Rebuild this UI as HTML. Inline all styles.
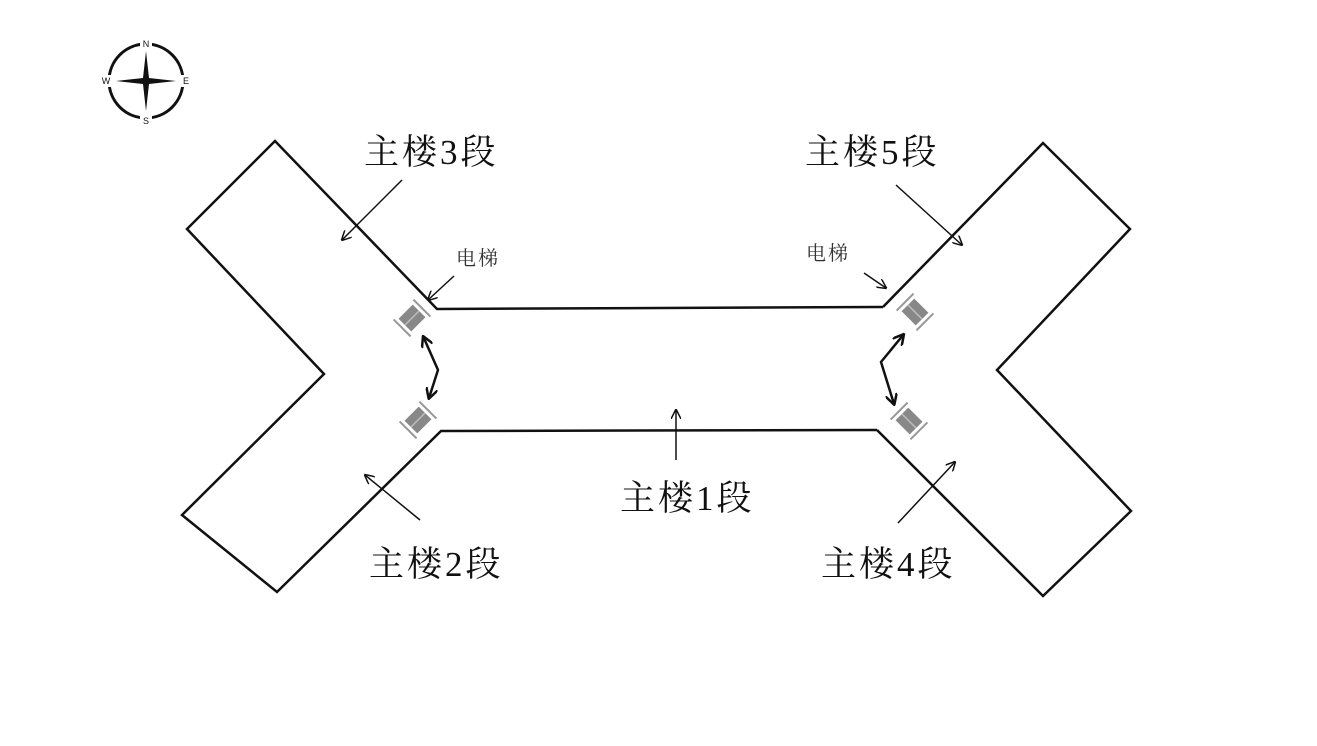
<!DOCTYPE html>
<html><head><meta charset="utf-8"><style>
body{margin:0;background:#fff;}
text{font-family:"Liberation Serif","Noto Serif CJK SC",serif;fill:#111;}
</style></head><body>
<svg width="1317" height="741" viewBox="0 0 1317 741" xmlns="http://www.w3.org/2000/svg">
<defs>
<marker id="a" markerWidth="10" markerHeight="10" refX="9" refY="5" orient="auto" markerUnits="userSpaceOnUse"><path d="M0,0 L10,5 L0,10" fill="none" stroke="#111" stroke-width="1.5"/></marker>
<marker id="b" markerWidth="12" markerHeight="12" refX="10" refY="6" orient="auto" markerUnits="userSpaceOnUse"><path d="M0,0 L11,6 L0,12" fill="none" stroke="#111" stroke-width="2.5"/></marker>
<marker id="bs" markerWidth="12" markerHeight="12" refX="1" refY="6" orient="auto" markerUnits="userSpaceOnUse"><path d="M12,0 L1,6 L12,12" fill="none" stroke="#111" stroke-width="2.5"/></marker>
<g id="el"><rect x="-10" y="-9" width="20" height="18" fill="#888"/><line x1="-10" y1="0" x2="10" y2="0" stroke="#bbb" stroke-width="1.5"/><line x1="-14" y1="-12" x2="-14" y2="12" stroke="#999" stroke-width="2"/><line x1="14" y1="-12" x2="14" y2="12" stroke="#999" stroke-width="2"/></g>
</defs>
<g transform="translate(146,81)">
<circle r="37" fill="none" stroke="#111" stroke-width="3"/>
<rect x="-6" y="-44" width="12" height="10" fill="#fff"/><rect x="-6" y="34" width="12" height="10" fill="#fff"/>
<rect x="-44" y="-6" width="10" height="12" fill="#fff"/><rect x="34" y="-6" width="10" height="12" fill="#fff"/>
<path d="M0,-30 L3,-3 L30,0 L3,3 L0,30 L-3,3 L-30,0 L-3,-3Z" fill="#111"/>
<text x="0" y="-34" font-size="9" text-anchor="middle" style="font-family:'Liberation Sans',sans-serif">N</text>
<text x="0" y="43" font-size="9" text-anchor="middle" style="font-family:'Liberation Sans',sans-serif">S</text>
<text x="-40" y="3" font-size="9" text-anchor="middle" style="font-family:'Liberation Sans',sans-serif">W</text>
<text x="40" y="3" font-size="9" text-anchor="middle" style="font-family:'Liberation Sans',sans-serif">E</text>
</g>
<g fill="none" stroke="#111" stroke-width="2.5">
<polyline points="877,307 437,309 275,141 187,229 324,374 182,515 277,592 441,431 877,430"/>
<polyline points="883,307 1043,143 1130,229 997,370 1131,511 1043,596 877,430"/>
<line x1="877" y1="307" x2="883" y2="307"/>
</g>
<use href="#el" transform="translate(412,318) rotate(-45)"/>
<use href="#el" transform="translate(418,420) rotate(-45)"/>
<use href="#el" transform="translate(915,312) rotate(45)"/>
<use href="#el" transform="translate(909,421) rotate(45)"/>
<g stroke="#111" stroke-width="1.5" fill="none" marker-end="url(#a)">
<line x1="402" y1="180" x2="342" y2="240"/>
<line x1="896" y1="185" x2="962" y2="245"/>
<line x1="420" y1="520" x2="365" y2="475"/>
<line x1="898" y1="523" x2="955" y2="462"/>
<line x1="676" y1="460" x2="676" y2="410"/>
<line x1="454" y1="276" x2="428" y2="300"/>
<line x1="864" y1="273" x2="886" y2="288"/>
</g>
<g stroke="#111" stroke-width="2.5" fill="none" marker-start="url(#bs)" marker-end="url(#b)">
<polyline points="423,336 438,370 429,398"/>
<polyline points="904,334 881,362 894,404"/>
</g>
<g font-size="35" letter-spacing="3">
<text x="364" y="164">主楼3段</text>
<text x="805" y="164">主楼5段</text>
<text x="369" y="576">主楼2段</text>
<text x="821" y="576">主楼4段</text>
<text x="620" y="510">主楼1段</text>
</g>
<text x="456" y="265" font-size="20" letter-spacing="2" style="fill:#333">电梯</text>
<text x="806" y="260" font-size="20" letter-spacing="2" style="fill:#333">电梯</text>
</svg>
</body></html>
